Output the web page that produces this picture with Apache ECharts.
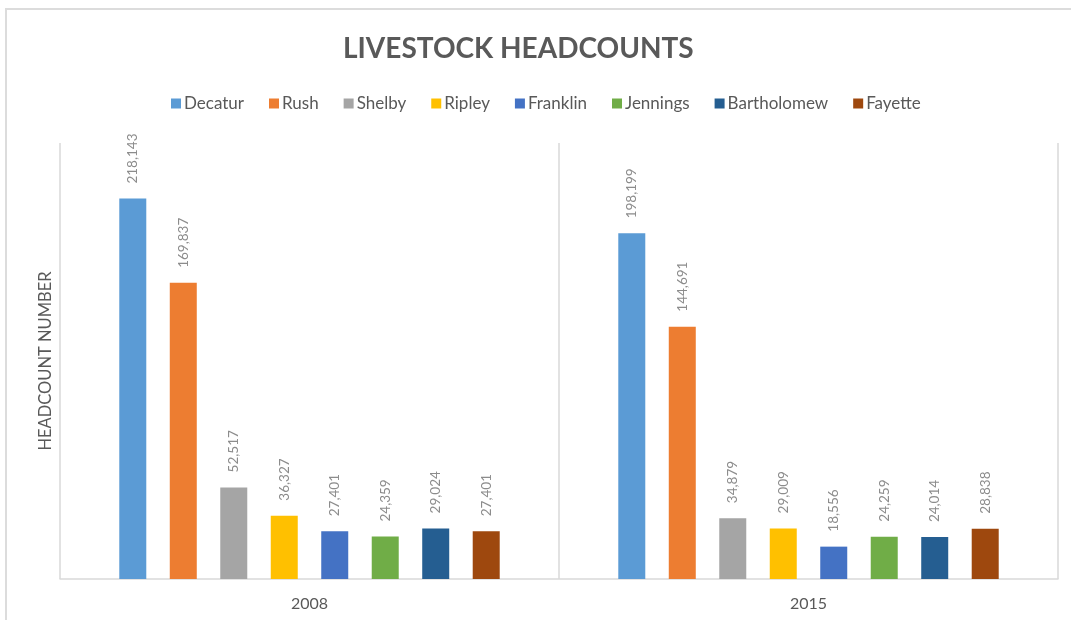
<!DOCTYPE html>
<html>
<head>
<meta charset="utf-8">
<script src="https://cdn.jsdelivr.net/npm/echarts@6/dist/echarts.min.js"></script>
<style>
  html, body { margin: 0; padding: 0; background: #fff; }
  .frame {
    position: absolute; left: 5px; top: 8px; width: 1066px; height: 612px;
    border-left: 2px solid #dcdcdc; border-top: 2px solid #dcdcdc;
  }
  #chart { position: absolute; left: 0; top: 0; width: 1071px; height: 620px; }
</style>
</head>
<body>
<div class="frame"></div>
<div id="chart"></div>
<script>
const years = ['2008', '2015']
const counties = ['Decatur', 'Rush', 'Shelby', 'Ripley', 'Franklin', 'Jennings', 'Bartholomew', 'Fayette']
const colors = ['#5b9bd5', '#ed7d31', '#a5a5a5', '#ffc000', '#4472c4', '#70ad47', '#255e91', '#9e480e']
// one list per county: [2008, 2015]
const decatur = [218143, 198199]
const rush = [169837, 144691]
const shelby = [52517, 34879]
const ripley = [36327, 29009]
const franklin = [27401, 18556]
const jennings = [24359, 24259]
const bartholomew = [29024, 24014]
const fayette = [27401, 28838]
const values = [decatur, rush, shelby, ripley, franklin, jennings, bartholomew, fayette]

const chart = echarts.init(document.getElementById('chart'))
const font = 'Lato, "Open Sans", sans-serif'

chart.setOption({
  animation: false,
  title: {
    text: 'LIVESTOCK HEADCOUNTS',
    left: 338,
    top: 30,
    textStyle: { fontFamily: font, fontSize: 28, fontWeight: 'bold', color: '#595959' }
  },
  legend: {
    top: 90,
    left: 166,
    itemWidth: 10,
    itemHeight: 10,
    itemGap: 25,
    icon: 'rect',
    textStyle: { fontFamily: font, fontSize: 17, color: '#595959', padding: [0, 0, 0, -2] },
    data: counties
  },
  grid: { left: 60, right: 13, top: 143, bottom: 41 },
  xAxis: {
    type: 'category',
    data: years,
    axisLine: { lineStyle: { color: '#d9d9d9', width: 1.5 } },
    axisTick: { show: false },
    splitLine: { show: true, lineStyle: { color: '#d9d9d9', width: 1.5 } },
    axisLabel: { fontFamily: font, fontSize: 16, color: '#595959', margin: 17 }
  },
  yAxis: {
    type: 'value',
    min: 0,
    max: 250000,
    name: 'HEADCOUNT NUMBER',
    nameLocation: 'middle',
    nameGap: 6,
    nameTextStyle: { fontFamily: font, fontSize: 16.5, color: '#595959' },
    axisLabel: { show: false },
    axisTick: { show: false },
    axisLine: { show: false },
    splitLine: { show: false }
  },
  series: counties.map((name, i) => ({
    name,
    type: 'bar',
    data: values[i],
    barWidth: 27,
    barGap: '87%',
    itemStyle: { color: colors[i] },
    label: {
      show: true,
      position: 'top',
      rotate: 90,
      align: 'left',
      verticalAlign: 'middle',
      distance: 15,
      fontFamily: font,
      fontSize: 13.5,
      color: '#8c8c8c',
      formatter: p => p.value.toLocaleString('en-US')
    }
  }))
})
</script>
</body>
</html>
